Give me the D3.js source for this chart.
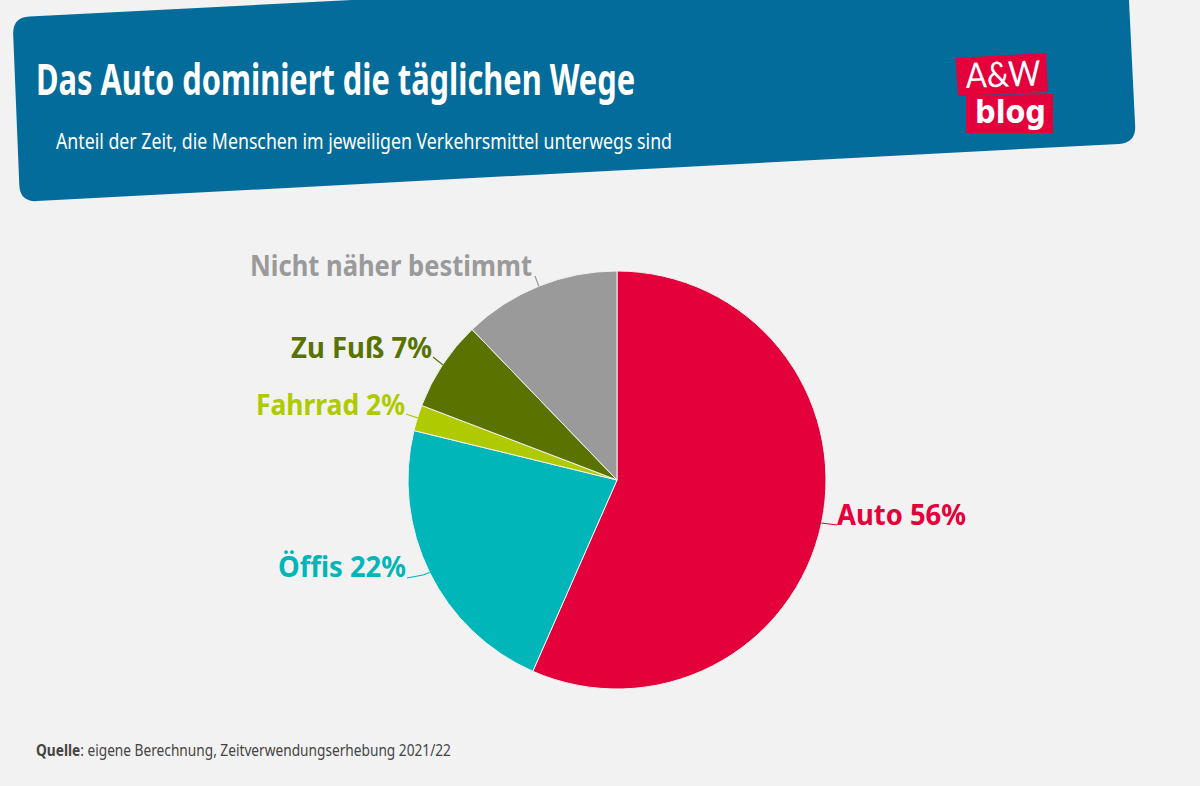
<!DOCTYPE html>
<meta charset="utf-8">
<script src="https://d3js.org/d3.v7.min.js"></script>
<style>
  html, body { margin: 0; padding: 0; background: #f2f2f2; overflow: hidden; }
  text { font-family: "Noto Sans", "Open Sans", sans-serif; }
</style>
<body>
<svg id="chart" width="1200" height="786"></svg>

<script>

// data
var categories = ['Auto', 'Öffis', 'Fahrrad', 'Zu Fuß', 'Nicht näher bestimmt'];
var shares = [56.6, 22.2, 2, 7, 12.2];
var labels = ['Auto 56%', 'Öffis 22%', 'Fahrrad 2%', 'Zu Fuß 7%', 'Nicht näher bestimmt'];
var colors = ['#e4003a', '#00b6b8', '#afca00', '#5a7300', '#9a9a9a'];

var titleText = 'Das Auto dominiert die täglichen Wege';
var subtitleText = 'Anteil der Zeit, die Menschen im jeweiligen Verkehrsmittel unterwegs sind';

var svg = d3.select('#chart');

// rounded polygon, used for the tilted header
function roundedPoly(pts, r) {
  var n = pts.length, d = '';
  pts.forEach(function(p, i) {
    var a = pts[(i + n - 1) % n], b = pts[(i + 1) % n];
    var la = Math.hypot(a[0] - p[0], a[1] - p[1]), lb = Math.hypot(b[0] - p[0], b[1] - p[1]);
    var s = [p[0] + (a[0] - p[0]) * r / la, p[1] + (a[1] - p[1]) * r / la];
    var e = [p[0] + (b[0] - p[0]) * r / lb, p[1] + (b[1] - p[1]) * r / lb];
    d += (i ? 'L' : 'M') + s[0] + ',' + s[1] + 'Q' + p[0] + ',' + p[1] + ' ' + e[0] + ',' + e[1];
  });
  return d + 'Z';
}

svg.append('path')
  .attr('d', roundedPoly([[12.5, 17.5], [1127, -40], [1136, 143], [20, 202]], 17))
  .attr('fill', '#046c9a');

function fitted(x, y, len, size, weight, fill, txt) {
  return svg.append('text')
    .attr('x', x).attr('y', y)
    .attr('textLength', len).attr('lengthAdjust', 'spacingAndGlyphs')
    .attr('font-size', size).attr('font-weight', weight)
    .attr('fill', fill)
    .text(txt);
}

fitted(36, 95, 599, 43, 700, '#fff', titleText);
fitted(56, 149, 616, 22, 400, '#fff', subtitleText);

// logo
svg.append('path').attr('d', 'M955.5,58L1046,53L1048,92L958,96Z').attr('fill', '#e4003a');
svg.append('path').attr('d', 'M966,95L1053,94L1053,133L966,133Z').attr('fill', '#e4003a');
fitted(966, 88, 75, 35, 400, '#fff', 'A&W').attr('transform', 'rotate(-2 966 88)')
  .style('font-family', 'Lato');
fitted(975, 123, 71, 32, 700, '#fff', 'blog').style('font-family', 'DejaVu Sans');

// pie
var cx = 617, cy = 480, radius = 209;
var g = svg.append('g').attr('transform', 'translate(' + cx + ',' + cy + ')');

var pie = d3.pie().sort(null).value(function(d) { return d; });
var arcs = pie(shares);
var arc = d3.arc().innerRadius(0).outerRadius(radius);

g.selectAll('path.slice')
  .data(arcs)
  .enter().append('path')
  .attr('class', 'slice')
  .attr('d', arc)
  .attr('fill', function(d, i) { return colors[i]; })
  .attr('stroke', '#f2f2f2')
  .attr('stroke-width', 1);

// label placement: left start, baseline, width, leader line points
var placement = [
  { x: 837, y: 525, len: 129, size: 29, line: [[837, 525]] },
  { x: 278, y: 577, len: 128, size: 29, line: [[423, 575], [407, 578]] },
  { x: 256, y: 415, len: 149, size: 29, line: [[406, 414]] },
  { x: 291, y: 358, len: 141, size: 29, line: [[433, 357]] },
  { x: 250, y: 276, len: 282, size: 29, line: [[535, 276]] }
];

var rim = d3.arc().innerRadius(radius).outerRadius(radius);
var lineGen = d3.line();

arcs.forEach(function(d, i) {
  var p = placement[i];
  var start = rim.centroid(d);
  var pts = [[start[0] + cx, start[1] + cy]].concat(p.line);
  svg.append('path')
    .attr('d', lineGen(pts))
    .attr('fill', 'none')
    .attr('stroke', colors[i])
    .attr('stroke-width', 1.2);
  fitted(p.x, p.y, p.len, p.size, 700, colors[i], labels[i]);
});

// source, squeezed as a whole so the bold and regular runs stay one text
var source = svg.append('text')
  .attr('transform', 'translate(36,756) scale(0.857,1)')
  .attr('font-size', 16).attr('fill', '#444');
source.append('tspan').attr('font-weight', 700).text('Quelle');
source.append('tspan').text(': eigene Berechnung, Zeitverwendungserhebung 2021/22');

</script>
</body>
